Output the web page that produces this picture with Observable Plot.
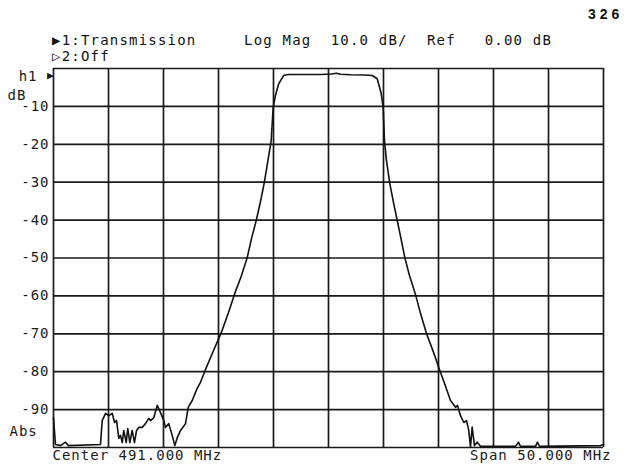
<!DOCTYPE html>
<html>
<head>
<meta charset="utf-8">
<script src="https://cdn.jsdelivr.net/npm/d3@7"></script>
<script src="https://cdn.jsdelivr.net/npm/@observablehq/plot@0.6"></script>
<style>
  html, body { margin: 0; padding: 0; background: #fff; }
  #wrap { width: 627px; }
  #hdr { position: relative; height: 62px; font-family: "DejaVu Sans Mono", monospace; font-size: 14px; letter-spacing: 1.2px; color: #111; }
  #hdr div { position: absolute; white-space: pre; line-height: 16px; }
  #page { left: 588px; top: 6px; font-family: "Liberation Sans", Arial, sans-serif; font-weight: bold; font-size: 14px; letter-spacing: 4px; }
  svg { display: block; }
</style>
</head>
<body>
<div id="wrap">
  <div id="hdr">
    <div id="page">326</div>
    <div style="left:52px; top:32px;">▶1:Transmission</div>
    <div style="left:244px; top:32px;">Log Mag  10.0 dB/  Ref   0.00 dB</div>
    <div style="left:52px; top:48px;">▷2:Off</div>
  </div>
  <div id="chart"></div>
</div>
<script>
// Trace 1: transmission magnitude (dB) vs frequency (MHz)
const freqMHz = [466.0, 466.18, 466.64, 467.09, 467.36, 470.27, 470.43, 470.73, 471.03, 471.34,
  471.55, 471.73, 471.94, 472.09, 472.25, 472.39, 472.61, 472.75, 472.94, 473.15,
  473.36, 473.55, 473.75, 474.06, 474.36, 474.66, 474.82, 475.12, 475.43, 475.73,
  476.03, 476.18, 476.48, 476.79, 477.03, 477.25, 477.55, 478.0, 478.25, 478.61,
  479.06, 479.36, 479.82, 480.55, 481.25, 481.91, 482.45, 483.09, 483.61, 484.0,
  484.43, 484.82, 485.15, 485.45, 485.79, 485.97, 486.18, 486.45, 486.64, 486.94,
  487.36, 488.45, 490.27, 491.27, 491.73, 492.09, 493.0, 494.36, 494.97, 495.43,
  495.79, 495.97, 496.09, 496.27, 496.57, 496.91, 497.25, 497.59, 497.94, 498.36,
  498.91, 499.36, 499.91, 500.55, 501.12, 501.55, 502.09, 502.55, 502.73, 503.0,
  503.3, 503.55, 503.75, 503.91, 504.06, 504.27, 504.52, 504.82, 508.0, 508.27,
  508.45, 509.82, 510.0, 510.18, 515.73, 516.0];
const magDB = [-92.1, -99.2, -99.5, -98.6, -99.5, -99.2, -92.9, -91.0, -91.6, -91.0,
  -93.4, -92.9, -97.6, -96.8, -98.7, -95.5, -98.7, -95.0, -98.7, -95.5,
  -98.7, -95.5, -94.7, -94.7, -93.7, -92.3, -92.9, -92.1, -88.9, -90.8,
  -92.9, -94.7, -93.7, -96.8, -99.5, -97.4, -95.5, -93.7, -89.4, -87.6,
  -84.4, -82.8, -79.4, -74.4, -69.7, -64.4, -59.6, -54.6, -49.9, -44.9,
  -40.1, -35.1, -30.3, -25.1, -19.0, -10.3, -7.1, -4.2, -3.2, -1.8,
  -1.6, -1.6, -1.6, -1.45, -1.25, -1.5, -1.65, -1.7, -1.85, -2.7,
  -6.6, -10.3, -19.0, -24.3, -30.3, -35.4, -40.1, -44.9, -49.9, -54.6,
  -59.6, -64.6, -69.9, -74.9, -79.7, -83.1, -87.6, -89.4, -88.9, -91.6,
  -93.4, -92.9, -95.5, -99.9, -94.6, -99.5, -98.6, -99.7, -99.7, -98.6,
  -99.7, -99.7, -98.6, -99.7, -99.5, -99.2];

// Grid divisions: center 491 MHz, span 50 MHz; 10 dB/div, ref 0 dB
const freqGrid = [466, 471, 476, 481, 486, 491, 496, 501, 506, 511, 516];
const dbGrid = [0, -10, -20, -30, -40, -50, -60, -70, -80, -90, -100];
const dbTickLabels = [-10, -20, -30, -40, -50, -60, -70, -80, -90];
const freqDomain = [466, 516];
const dbDomain = [-100, 0];

const trace = freqMHz.map((f, i) => ({f, db: magDB[i]}));
const ink = "#1a1a1a";
const mono = "DejaVu Sans Mono";

const chart = Plot.plot({
  width: 627,
  height: 410,
  marginTop: 6,
  marginBottom: 25,
  marginLeft: 53,
  marginRight: 24,
  style: {fontFamily: mono, fontSize: "14px", letterSpacing: "1px", color: ink, background: "#fff"},
  x: {domain: freqDomain, axis: null},
  y: {domain: dbDomain, axis: null},
  marks: [
    Plot.ruleX(freqGrid, {stroke: ink, strokeWidth: 1.7}),
    Plot.ruleY(dbGrid, {stroke: ink, strokeWidth: 1.7}),
    Plot.axisY(dbTickLabels, {tickSize: 0, tickPadding: 4, tickFormat: d => `${d}`, label: null, fontSize: 14, fill: ink}),
    Plot.line(trace, {x: "f", y: "db", stroke: "#111", strokeWidth: 1.6, strokeLinejoin: "round"}),
    Plot.text(["h1"], {frameAnchor: "top-left", textAnchor: "end", dx: -16, dy: 3, fontSize: 14, fill: ink}),
    Plot.text(["▶"], {frameAnchor: "top-left", textAnchor: "end", dx: 1, dy: 3, fontSize: 11, fill: ink}),
    Plot.text(["dB"], {frameAnchor: "top-left", textAnchor: "start", dx: -46, dy: 22, fontSize: 14, fill: ink}),
    Plot.text(["Abs"], {frameAnchor: "bottom-left", textAnchor: "start", dx: -44, dy: -12, fontSize: 14, fill: ink}),
    Plot.text(["Center 491.000 MHz"], {frameAnchor: "bottom-left", textAnchor: "start", dx: -1, dy: 12, fontSize: 14, fill: ink}),
    Plot.text(["Span 50.000 MHz"], {frameAnchor: "bottom-right", textAnchor: "end", dx: 8, dy: 12, fontSize: 14, fill: ink})
  ]
});
document.getElementById("chart").appendChild(chart);
</script>
</body>
</html>
